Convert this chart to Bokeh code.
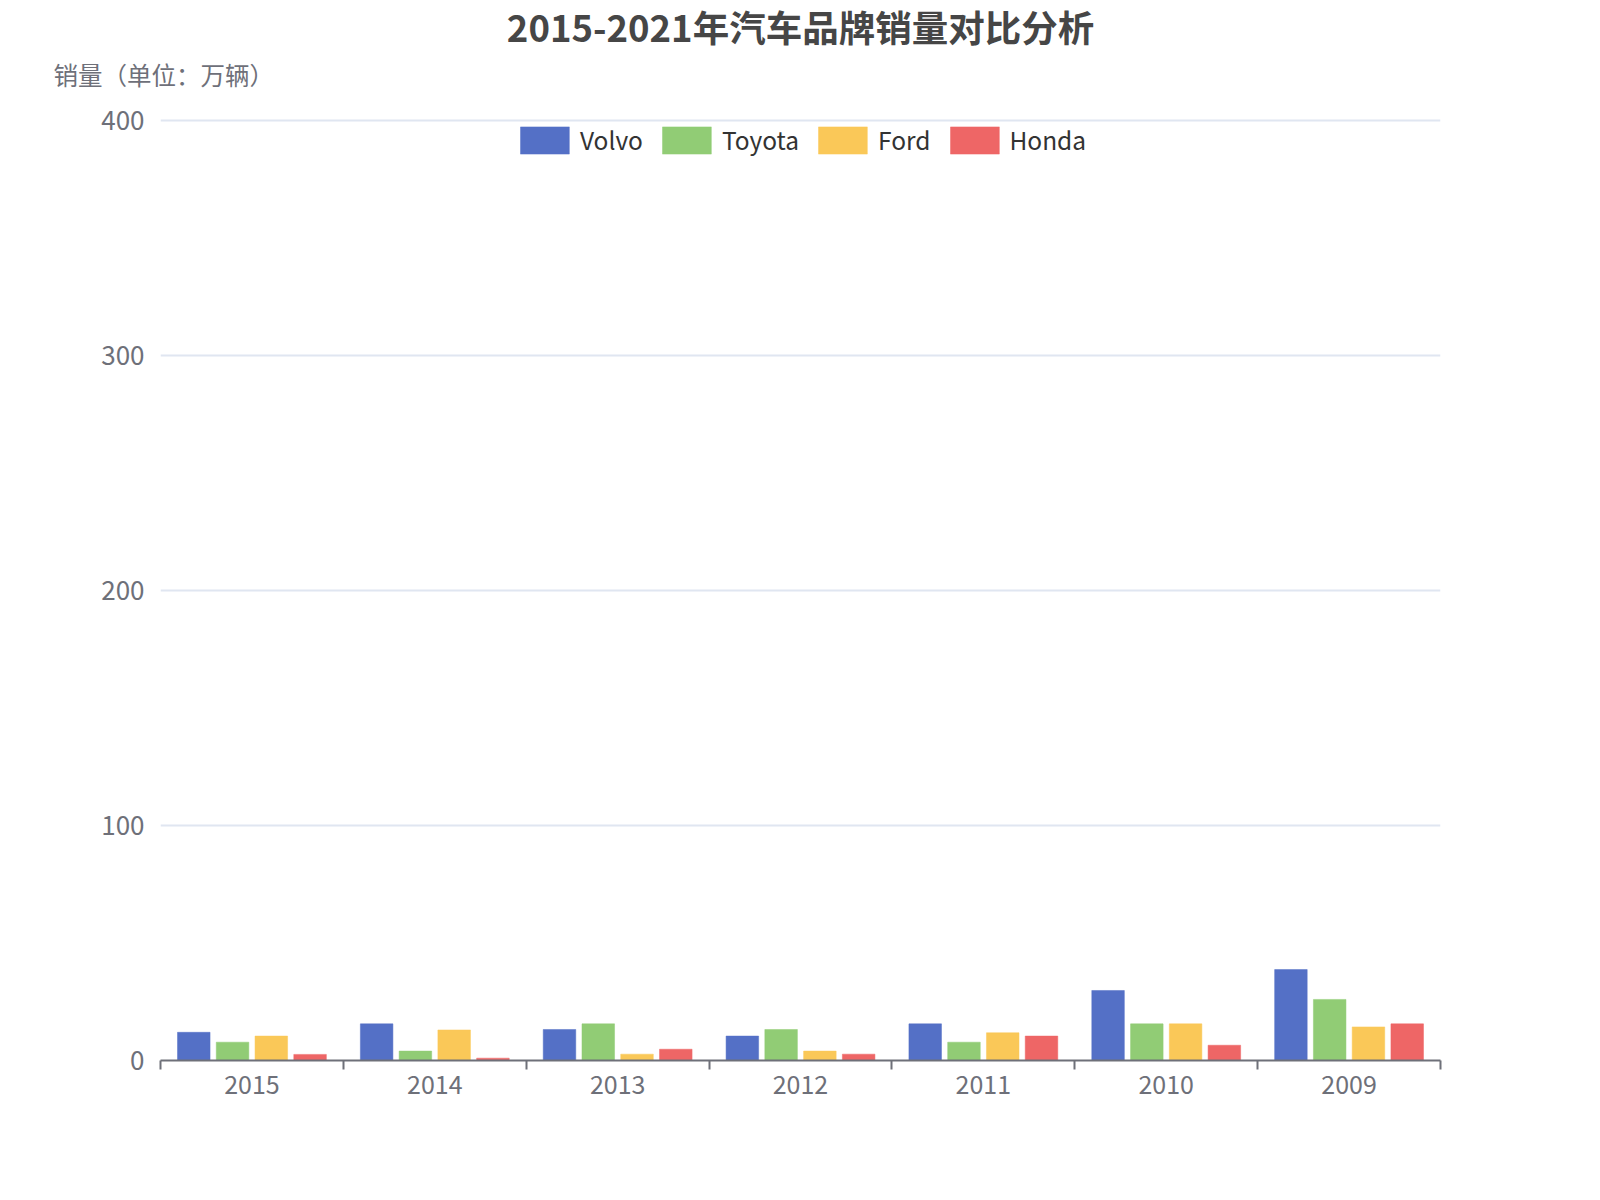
from bokeh.plotting import figure
from bokeh.models import FixedTicker, Legend, LegendItem, ColumnDataSource, Label
from bokeh.embed import file_html
from bokeh.resources import INLINE

years = ["2015", "2014", "2013", "2012", "2011", "2010", "2009"]
brands = ["Volvo", "Toyota", "Ford", "Honda"]
volvo = [12, 15.6, 13.2, 10.4, 15.6, 29.8, 38.7]
toyota = [7.8, 4.0, 15.6, 13.2, 7.8, 15.6, 26]
ford = [10.4, 13.0, 2.7, 4.0, 11.8, 15.6, 14.3]
honda = [2.6, 1.0, 4.8, 2.7, 10.4, 6.5, 15.6]
y_ticks = [0, 100, 200, 300, 400]

COLOURS = ["#5470c6", "#91cc75", "#fac858", "#ee6666"]
BAR_W = 0.178       # bar width, fraction of a category
PITCH = 0.212       # distance between bars of one group
FONT = "Noto Sans CJK SC"
GREY = "#6E7079"

# y range a little above 400 so the top grid line is not clipped
p = figure(width=1584, height=1184, x_range=(0, len(years)), y_range=(0, 401),
           output_backend="svg", toolbar_location=None, title=None,
           min_border_left=160, min_border_right=144, min_border_top=118, min_border_bottom=124)
p.outline_line_color = None
p.background_fill_color = "white"
p.border_fill_color = "white"

# bars, dodged around the middle of each year
items = []
for k, (name, vals) in enumerate(zip(brands, [volvo, toyota, ford, honda])):
    off = (k - 1.5) * PITCH
    xs = [i + 0.5 + off for i in range(len(years))]
    src = ColumnDataSource(dict(x=xs, top=vals))
    r = p.vbar(x="x", top="top", width=BAR_W, bottom=0, source=src,
               fill_color=COLOURS[k], line_color=COLOURS[k], line_width=0.5)
    items.append(LegendItem(label=name, renderers=[r]))

# bokeh insets legend glyphs by 10% on each side
legend = Legend(items=items, orientation="horizontal", location="top_center",
                glyph_width=61, glyph_height=34, label_height=34, label_standoff=5,
                spacing=13, padding=0, margin=4, border_line_color=None,
                background_fill_alpha=0, label_text_font=FONT,
                label_text_font_size="24.5px", label_text_color="#333333")
p.add_layout(legend, "center")

# x axis: ticks on the boundaries, labels in the middle
xt = FixedTicker(ticks=[i + 0.5 for i in range(len(years))],
                 minor_ticks=list(range(len(years) + 1)))
p.xaxis.ticker = xt
p.xaxis.major_label_overrides = {i + 0.5: y for i, y in enumerate(years)}
p.xaxis.major_tick_line_color = None
p.xaxis.major_tick_out = 0
p.xaxis.major_tick_in = 0
p.xaxis.minor_tick_line_color = GREY
p.xaxis.minor_tick_line_width = 2
p.xaxis.minor_tick_out = 9
p.xaxis.minor_tick_in = 0
p.xaxis.axis_line_color = GREY
p.xaxis.axis_line_width = 2
p.xaxis.major_label_standoff = 5
p.xaxis.major_label_text_font = FONT
p.xaxis.major_label_text_font_size = "25px"
p.xaxis.major_label_text_color = GREY

p.yaxis.ticker = FixedTicker(ticks=y_ticks)
p.yaxis.axis_line_color = None
p.yaxis.major_tick_line_color = None
p.yaxis.minor_tick_line_color = None
p.yaxis.major_tick_out = 0
p.yaxis.major_label_standoff = 16
p.yaxis.major_label_text_font = FONT
p.yaxis.major_label_text_font_size = "26px"
p.yaxis.major_label_text_color = GREY

p.xgrid.grid_line_color = None
p.ygrid.grid_line_color = "#E0E6F1"
p.ygrid.grid_line_width = 2

# title and y axis name in the panels above the frame (y measured up from each panel's bottom)
p.add_layout(Label(x=640, y=92, x_units="screen", y_units="screen",
                   text="2015-2021年汽车品牌销量对比分析", text_align="center",
                   text_baseline="middle", text_font=FONT, text_font_size="36.5px",
                   text_font_style="bold", text_color="#464646"), "above")
p.add_layout(Label(x=-107, y=-8.5, x_units="screen", y_units="screen",
                   text="销量（单位：万辆）", text_align="left", text_baseline="middle",
                   text_font=FONT, text_font_size="24.5px", text_color=GREY), "above")

open("out.html", "w").write(file_html(p, INLINE))
